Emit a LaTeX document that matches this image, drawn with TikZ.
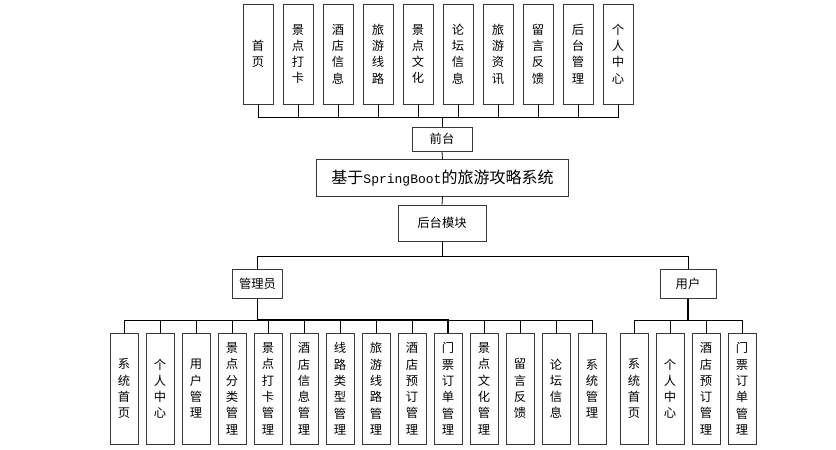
\documentclass[tikz,border=0pt]{standalone}
\usepackage{fontspec}
\setmainfont{Noto Sans CJK SC}
\newfontfamily\latinmono{Liberation Mono}
\usetikzlibrary{shadows}
\begin{document}
\begin{tikzpicture}[x=1pt,y=-1pt,
  box/.style={draw=black!78, line width=0.8pt, fill=white, inner sep=0pt, align=center,
    font=\fontsize{12.3}{16.3}\selectfont,
    general shadow={shadow xshift=0.8pt, shadow yshift=-0.8pt, fill=black!15}},
  topbox/.style={box, minimum width=30pt, minimum height=100pt},
  leafbox/.style={box, minimum width=28pt, minimum height=111pt},
  link/.style={draw=black, line width=0.8pt},
  trunk/.style={draw=black, line width=1.3pt}]
\useasboundingbox (0,0) rectangle (836,450);

% top row
\node[topbox] (t1) at (258,54) {首\\页};
\node[topbox] (t2) at (298,54) {景\\点\\打\\卡};
\node[topbox] (t3) at (338,54) {酒\\店\\信\\息};
\node[topbox] (t4) at (378,54) {旅\\游\\线\\路};
\node[topbox] (t5) at (418,54) {景\\点\\文\\化};
\node[topbox] (t6) at (458,54) {论\\坛\\信\\息};
\node[topbox] (t7) at (498,54) {旅\\游\\资\\讯};
\node[topbox] (t8) at (538,54) {留\\言\\反\\馈};
\node[topbox] (t9) at (578,54) {后\\台\\管\\理};
\node[topbox] (t10) at (618,54) {个\\人\\中\\心};

\node[box, minimum width=60pt, minimum height=24pt] (qt) at (442,139) {前台};
\node[box, minimum width=252pt, minimum height=37pt, font=\fontsize{16}{18}\selectfont] (main) at (442.5,177.7) {基于{\latinmono\fontsize{13}{18}\selectfont SpringBoot}的旅游攻略系统};
\node[box, minimum width=88pt, minimum height=36pt] (bk) at (442,223) {后台模块};
\node[box, minimum width=50pt, minimum height=29pt] (adm) at (257.5,284) {管理员};
\node[box, minimum width=56pt, minimum height=29pt] (usr) at (688,284) {用户};

% admin leaves
\node[leafbox] (a1) at (124,388.7) {系\\统\\首\\页};
\node[leafbox] (a2) at (160,388.7) {个\\人\\中\\心};
\node[leafbox] (a3) at (196,388.7) {用\\户\\管\\理};
\node[leafbox] (a4) at (232,388.7) {景\\点\\分\\类\\管\\理};
\node[leafbox] (a5) at (268,388.7) {景\\点\\打\\卡\\管\\理};
\node[leafbox] (a6) at (304,388.7) {酒\\店\\信\\息\\管\\理};
\node[leafbox] (a7) at (340,388.7) {线\\路\\类\\型\\管\\理};
\node[leafbox] (a8) at (376,388.7) {旅\\游\\线\\路\\管\\理};
\node[leafbox] (a9) at (412,388.7) {酒\\店\\预\\订\\管\\理};
\node[leafbox] (a10) at (448,388.7) {门\\票\\订\\单\\管\\理};
\node[leafbox] (a11) at (484,388.7) {景\\点\\文\\化\\管\\理};
\node[leafbox] (a12) at (520,388.7) {留\\言\\反\\馈};
\node[leafbox] (a13) at (556,388.7) {论\\坛\\信\\息};
\node[leafbox] (a14) at (592,388.7) {系\\统\\管\\理};

% user leaves
\node[leafbox] (u1) at (634,388.7) {系\\统\\首\\页};
\node[leafbox] (u2) at (670,388.7) {个\\人\\中\\心};
\node[leafbox] (u3) at (706,388.7) {酒\\店\\预\\订\\管\\理};
\node[leafbox] (u4) at (742,388.7) {门\\票\\订\\单\\管\\理};

% connectors
\coordinate (tb) at (442,117);
\coordinate (bb) at (442,256);
\coordinate (ab) at (257.5,320);
\coordinate (ub) at (688,320.5);

\draw[link] (qt.north) -- (tb);
\foreach \i in {1,...,10} \draw[link] (t\i.south) |- (tb);
\draw[link] (qt.south) -- (main.north);
\draw[link] (main.south) -- (bk.north);
\draw[link] (bk.south) -- (bb);
\draw[link] (adm.north) |- (bb);
\draw[link] (usr.north) |- (bb);

\foreach \i in {1,...,14} \draw[link] (a\i.north) |- (ab);
\draw[trunk] (adm.south) -- (ab) -| (a10.north);
\foreach \i in {1,...,4} \draw[link] (u\i.north) |- (ub);
\draw[trunk] (usr.south) -- (ub);
\end{tikzpicture}
\end{document}
